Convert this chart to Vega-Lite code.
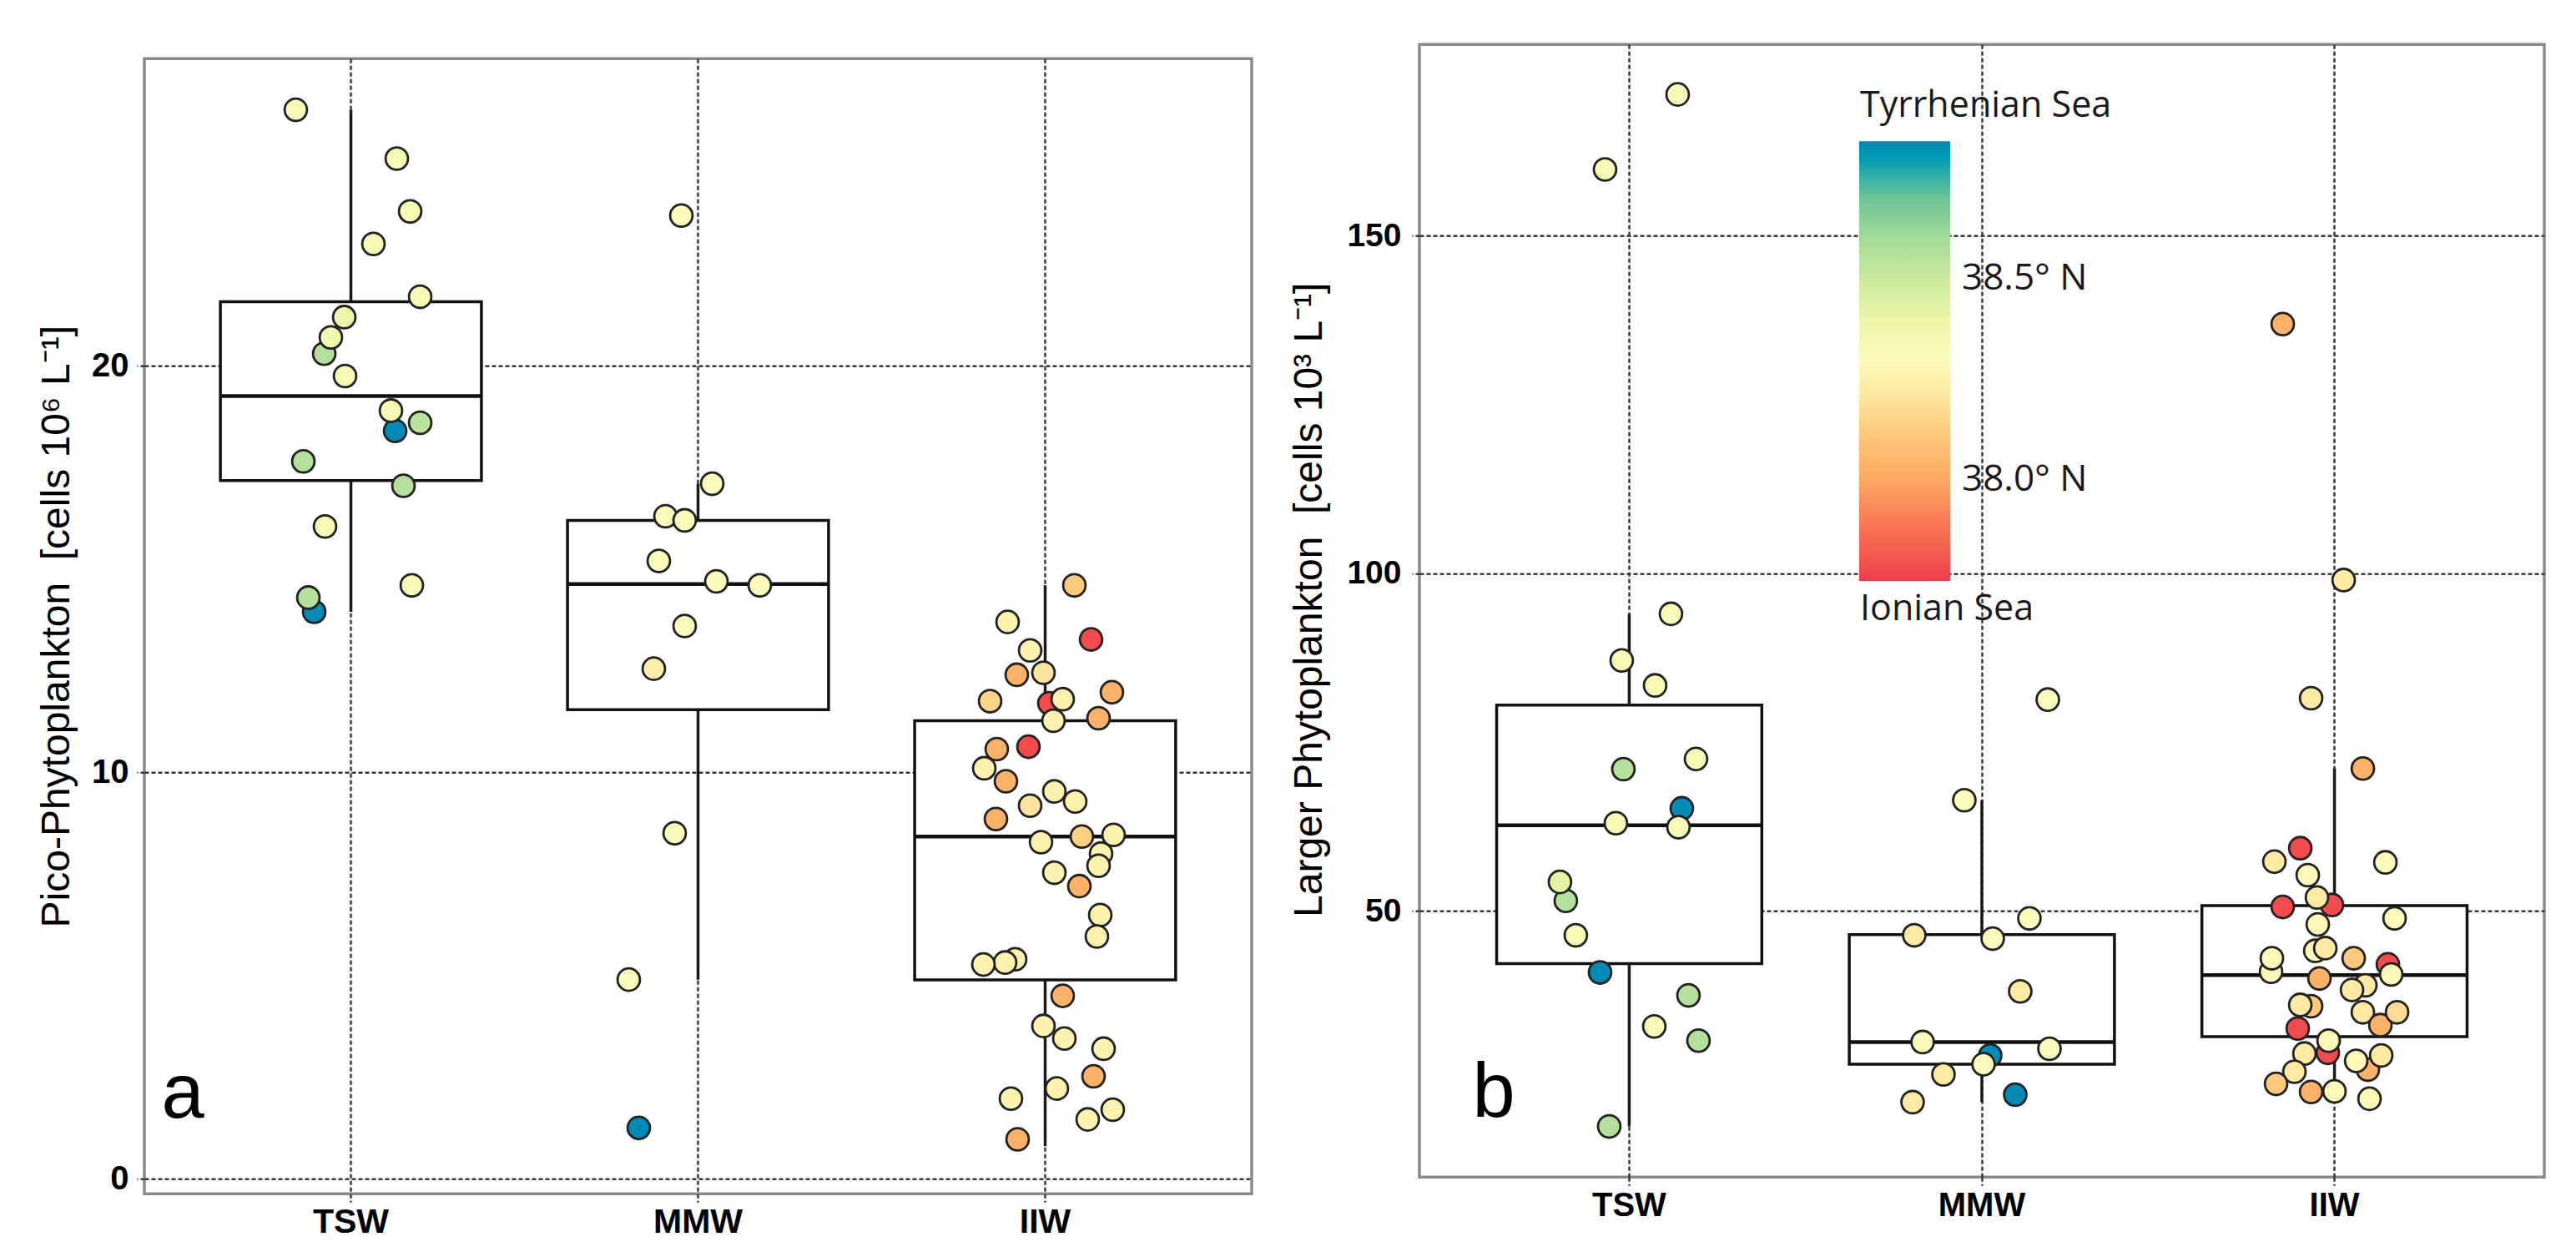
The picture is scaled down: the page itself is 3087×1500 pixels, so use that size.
{
  "$schema": "https://vega.github.io/schema/vega-lite/v6.json",
  "autosize": {"type": "pad"},
  "padding": {"left": 42, "top": 51.25, "right": 5, "bottom": 5},
  "background": "white",
  "spacing": 41,
  "datasets": {
    "picoBox": [
      {"grp": "TSW", "lo": 13.95, "q1": 17.18, "med": 19.26, "q3": 21.58, "hi": 26.3},
      {"grp": "MMW", "lo": 4.9, "q1": 11.54, "med": 14.63, "q3": 16.2, "hi": 17.1},
      {"grp": "IIW", "lo": 0.8, "q1": 4.89, "med": 8.42, "q3": 11.27, "hi": 14.6}
    ],
    "largeBox": [
      {"grp": "TSW", "lo": 18.1, "q1": 42.2, "med": 62.7, "q3": 80.5, "hi": 94.0},
      {"grp": "MMW", "lo": 21.7, "q1": 27.3, "med": 30.6, "q3": 46.5, "hi": 66.4},
      {"grp": "IIW", "lo": 22.2, "q1": 31.4, "med": 40.5, "q3": 50.8, "hi": 71.1}
    ],
    "picoPts": [
      {"grp": "TSW", "val": 26.3, "lat": 38.33, "jit": -66},
      {"grp": "TSW", "val": 25.1, "lat": 38.33, "jit": 55},
      {"grp": "TSW", "val": 23.8, "lat": 38.33, "jit": 71},
      {"grp": "TSW", "val": 23.0, "lat": 38.33, "jit": 27},
      {"grp": "TSW", "val": 21.7, "lat": 38.33, "jit": 83},
      {"grp": "TSW", "val": 21.2, "lat": 38.38, "jit": -8},
      {"grp": "TSW", "val": 20.3, "lat": 38.57, "jit": -32},
      {"grp": "TSW", "val": 20.7, "lat": 38.36, "jit": -24},
      {"grp": "TSW", "val": 19.75, "lat": 38.33, "jit": -7},
      {"grp": "TSW", "val": 18.4, "lat": 38.83, "jit": 53},
      {"grp": "TSW", "val": 18.9, "lat": 38.33, "jit": 48},
      {"grp": "TSW", "val": 18.6, "lat": 38.55, "jit": 83},
      {"grp": "TSW", "val": 17.65, "lat": 38.57, "jit": -57},
      {"grp": "TSW", "val": 17.05, "lat": 38.57, "jit": 63},
      {"grp": "TSW", "val": 16.05, "lat": 38.33, "jit": -31},
      {"grp": "TSW", "val": 14.6, "lat": 38.33, "jit": 73},
      {"grp": "TSW", "val": 13.95, "lat": 38.83, "jit": -44},
      {"grp": "TSW", "val": 14.3, "lat": 38.57, "jit": -51},
      {"grp": "MMW", "val": 23.7, "lat": 38.3, "jit": -20},
      {"grp": "MMW", "val": 17.1, "lat": 38.3, "jit": 17},
      {"grp": "MMW", "val": 16.3, "lat": 38.3, "jit": -39},
      {"grp": "MMW", "val": 16.2, "lat": 38.3, "jit": -16},
      {"grp": "MMW", "val": 15.2, "lat": 38.28, "jit": -47},
      {"grp": "MMW", "val": 14.7, "lat": 38.3, "jit": 22},
      {"grp": "MMW", "val": 14.6, "lat": 38.3, "jit": 74},
      {"grp": "MMW", "val": 13.6, "lat": 38.3, "jit": -16},
      {"grp": "MMW", "val": 12.55, "lat": 38.24, "jit": -53},
      {"grp": "MMW", "val": 8.5, "lat": 38.3, "jit": -28},
      {"grp": "MMW", "val": 4.9, "lat": 38.3, "jit": -83},
      {"grp": "MMW", "val": 1.25, "lat": 38.83, "jit": -71},
      {"grp": "IIW", "val": 14.6, "lat": 38.12, "jit": 35},
      {"grp": "IIW", "val": 13.7, "lat": 38.25, "jit": -45},
      {"grp": "IIW", "val": 13.27, "lat": 37.78, "jit": 55},
      {"grp": "IIW", "val": 13.0, "lat": 38.25, "jit": -18},
      {"grp": "IIW", "val": 12.4, "lat": 38.03, "jit": -34},
      {"grp": "IIW", "val": 12.45, "lat": 38.2, "jit": -2},
      {"grp": "IIW", "val": 11.75, "lat": 38.15, "jit": -66},
      {"grp": "IIW", "val": 11.7, "lat": 37.78, "jit": 5},
      {"grp": "IIW", "val": 11.8, "lat": 38.25, "jit": 21},
      {"grp": "IIW", "val": 11.97, "lat": 38.03, "jit": 80},
      {"grp": "IIW", "val": 11.27, "lat": 38.25, "jit": 10},
      {"grp": "IIW", "val": 11.33, "lat": 38.03, "jit": 64},
      {"grp": "IIW", "val": 10.63, "lat": 37.78, "jit": -20},
      {"grp": "IIW", "val": 10.57, "lat": 38.03, "jit": -58},
      {"grp": "IIW", "val": 10.1, "lat": 38.25, "jit": -73},
      {"grp": "IIW", "val": 9.78, "lat": 38.03, "jit": -47},
      {"grp": "IIW", "val": 9.53, "lat": 38.25, "jit": 11},
      {"grp": "IIW", "val": 9.28, "lat": 38.25, "jit": 36},
      {"grp": "IIW", "val": 9.18, "lat": 38.2, "jit": -18},
      {"grp": "IIW", "val": 8.85, "lat": 38.03, "jit": -59},
      {"grp": "IIW", "val": 8.0, "lat": 38.25, "jit": 67},
      {"grp": "IIW", "val": 8.28, "lat": 38.25, "jit": -5},
      {"grp": "IIW", "val": 8.42, "lat": 38.14, "jit": 44},
      {"grp": "IIW", "val": 8.46, "lat": 38.25, "jit": 82},
      {"grp": "IIW", "val": 7.7, "lat": 38.25, "jit": 64},
      {"grp": "IIW", "val": 7.53, "lat": 38.25, "jit": 11},
      {"grp": "IIW", "val": 7.2, "lat": 38.03, "jit": 41},
      {"grp": "IIW", "val": 6.49, "lat": 38.25, "jit": 66},
      {"grp": "IIW", "val": 5.96, "lat": 38.25, "jit": 62},
      {"grp": "IIW", "val": 5.4, "lat": 38.25, "jit": -36},
      {"grp": "IIW", "val": 5.32, "lat": 38.25, "jit": -48},
      {"grp": "IIW", "val": 5.27, "lat": 38.25, "jit": -74},
      {"grp": "IIW", "val": 4.5, "lat": 38.03, "jit": 21},
      {"grp": "IIW", "val": 3.76, "lat": 38.25, "jit": -2},
      {"grp": "IIW", "val": 3.45, "lat": 38.25, "jit": 23},
      {"grp": "IIW", "val": 3.2, "lat": 38.25, "jit": 70},
      {"grp": "IIW", "val": 2.52, "lat": 38.03, "jit": 58},
      {"grp": "IIW", "val": 2.22, "lat": 38.25, "jit": 14},
      {"grp": "IIW", "val": 1.97, "lat": 38.25, "jit": -41},
      {"grp": "IIW", "val": 1.7, "lat": 38.25, "jit": 81},
      {"grp": "IIW", "val": 1.46, "lat": 38.25, "jit": 51},
      {"grp": "IIW", "val": 0.97, "lat": 38.03, "jit": -33}
    ],
    "largePts": [
      {"grp": "TSW", "val": 170.9, "lat": 38.33, "jit": 58},
      {"grp": "TSW", "val": 159.8, "lat": 38.33, "jit": -29},
      {"grp": "TSW", "val": 94.0, "lat": 38.33, "jit": 50},
      {"grp": "TSW", "val": 87.1, "lat": 38.33, "jit": -9},
      {"grp": "TSW", "val": 83.4, "lat": 38.33, "jit": 31},
      {"grp": "TSW", "val": 72.5, "lat": 38.33, "jit": 80},
      {"grp": "TSW", "val": 71.0, "lat": 38.57, "jit": -7},
      {"grp": "TSW", "val": 65.2, "lat": 38.83, "jit": 63},
      {"grp": "TSW", "val": 63.0, "lat": 38.33, "jit": -16},
      {"grp": "TSW", "val": 62.4, "lat": 38.33, "jit": 59},
      {"grp": "TSW", "val": 51.5, "lat": 38.57, "jit": -76},
      {"grp": "TSW", "val": 54.3, "lat": 38.43, "jit": -83},
      {"grp": "TSW", "val": 46.4, "lat": 38.33, "jit": -64},
      {"grp": "TSW", "val": 40.9, "lat": 38.83, "jit": -35},
      {"grp": "TSW", "val": 37.5, "lat": 38.57, "jit": 71},
      {"grp": "TSW", "val": 32.9, "lat": 38.33, "jit": 30},
      {"grp": "TSW", "val": 30.8, "lat": 38.57, "jit": 83},
      {"grp": "TSW", "val": 18.1, "lat": 38.57, "jit": -24},
      {"grp": "MMW", "val": 81.3, "lat": 38.3, "jit": 79},
      {"grp": "MMW", "val": 66.4, "lat": 38.3, "jit": -21},
      {"grp": "MMW", "val": 48.9, "lat": 38.3, "jit": 57},
      {"grp": "MMW", "val": 46.4, "lat": 38.22, "jit": -81},
      {"grp": "MMW", "val": 45.9, "lat": 38.3, "jit": 13},
      {"grp": "MMW", "val": 38.1, "lat": 38.22, "jit": 46},
      {"grp": "MMW", "val": 30.6, "lat": 38.3, "jit": -71},
      {"grp": "MMW", "val": 29.6, "lat": 38.3, "jit": 81},
      {"grp": "MMW", "val": 28.6, "lat": 38.83, "jit": 10},
      {"grp": "MMW", "val": 27.3, "lat": 38.3, "jit": 2},
      {"grp": "MMW", "val": 25.8, "lat": 38.22, "jit": -46},
      {"grp": "MMW", "val": 22.8, "lat": 38.83, "jit": 40},
      {"grp": "MMW", "val": 21.7, "lat": 38.22, "jit": -83},
      {"grp": "IIW", "val": 136.9, "lat": 38.03, "jit": -62},
      {"grp": "IIW", "val": 99.0, "lat": 38.22, "jit": 11},
      {"grp": "IIW", "val": 81.5, "lat": 38.22, "jit": -28},
      {"grp": "IIW", "val": 71.1, "lat": 38.03, "jit": 34},
      {"grp": "IIW", "val": 57.3, "lat": 38.22, "jit": -72},
      {"grp": "IIW", "val": 59.3, "lat": 37.78, "jit": -41},
      {"grp": "IIW", "val": 57.2, "lat": 38.28, "jit": 61},
      {"grp": "IIW", "val": 55.3, "lat": 38.28, "jit": -32},
      {"grp": "IIW", "val": 50.9, "lat": 37.78, "jit": -3},
      {"grp": "IIW", "val": 52.0, "lat": 38.22, "jit": -21},
      {"grp": "IIW", "val": 50.6, "lat": 37.78, "jit": -62},
      {"grp": "IIW", "val": 48.0, "lat": 38.28, "jit": -20},
      {"grp": "IIW", "val": 48.9, "lat": 38.28, "jit": 72},
      {"grp": "IIW", "val": 44.1, "lat": 38.28, "jit": -23},
      {"grp": "IIW", "val": 44.5, "lat": 38.22, "jit": -11},
      {"grp": "IIW", "val": 41.0, "lat": 38.28, "jit": -76},
      {"grp": "IIW", "val": 43.0, "lat": 38.28, "jit": -75},
      {"grp": "IIW", "val": 42.1, "lat": 37.78, "jit": 64},
      {"grp": "IIW", "val": 43.0, "lat": 38.12, "jit": 23},
      {"grp": "IIW", "val": 40.0, "lat": 38.03, "jit": -18},
      {"grp": "IIW", "val": 40.6, "lat": 38.28, "jit": 68},
      {"grp": "IIW", "val": 39.0, "lat": 38.22, "jit": 37},
      {"grp": "IIW", "val": 38.3, "lat": 38.22, "jit": 21},
      {"grp": "IIW", "val": 35.9, "lat": 38.12, "jit": -28},
      {"grp": "IIW", "val": 36.1, "lat": 38.22, "jit": -41},
      {"grp": "IIW", "val": 35.0, "lat": 38.22, "jit": 34},
      {"grp": "IIW", "val": 33.1, "lat": 38.03, "jit": 55},
      {"grp": "IIW", "val": 35.0, "lat": 38.18, "jit": 75},
      {"grp": "IIW", "val": 32.6, "lat": 37.78, "jit": -44},
      {"grp": "IIW", "val": 29.0, "lat": 37.78, "jit": -8},
      {"grp": "IIW", "val": 30.8, "lat": 38.28, "jit": -7},
      {"grp": "IIW", "val": 26.5, "lat": 38.03, "jit": 40},
      {"grp": "IIW", "val": 28.6, "lat": 38.22, "jit": 56},
      {"grp": "IIW", "val": 28.9, "lat": 38.22, "jit": -36},
      {"grp": "IIW", "val": 27.8, "lat": 38.28, "jit": 26},
      {"grp": "IIW", "val": 26.2, "lat": 38.22, "jit": -48},
      {"grp": "IIW", "val": 24.4, "lat": 38.12, "jit": -70},
      {"grp": "IIW", "val": 23.2, "lat": 38.03, "jit": -28},
      {"grp": "IIW", "val": 23.3, "lat": 38.28, "jit": 0},
      {"grp": "IIW", "val": 22.2, "lat": 38.28, "jit": 42}
    ]
  },
  "hconcat": [
    {
      "spacing": 0,
      "vconcat": [
        {
          "width": 1327,
          "height": 14.25,
          "view": {"stroke": null},
          "data": {"values": [{"k": 1}]},
          "mark": {"type": "point", "opacity": 0},
          "encoding": {}
        },
        {
          "width": 1327,
          "height": 1360,
          "resolve": {"scale": {"xOffset": "independent"}},
          "layer": [
            {
              "data": {"name": "picoBox"},
              "mark": {"type": "rule", "color": "#1a1a1a", "strokeWidth": 3.5},
              "encoding": {
                "x": {"field": "grp", "type": "nominal",
                  "scale": {"domain": ["TSW", "MMW", "IIW"], "paddingInner": 0.2, "paddingOuter": 0.195},
                  "axis": {"title": null, "labelAngle": 0, "bandPosition": 0.5, "tickSize": 10, "labelPadding": 4, "labelFontSize": 41}},
                "y": {"field": "lo", "type": "quantitative",
                  "scale": {"domain": [-0.37, 27.56], "nice": false, "zero": false},
                  "axis": {"values": [0, 10, 20], "title": "Pico-Phytoplankton\u00a0 [cells 10\u2076 L\u207b\u00b9]", "titleX": -91, "titleY": 680, "titleAngle": -90, "titleAlign": "center", "titleBaseline": "alphabetic", "labelPadding": 10, "tickSize": 9, "labelFontSize": 40}},
                "y2": {"field": "hi"}
              }
            },
            {
              "data": {"name": "picoBox"},
              "mark": {"type": "bar", "fill": "white", "stroke": "#111", "strokeWidth": 3.5, "width": {"band": 0.94}},
              "encoding": {
                "x": {"field": "grp", "type": "nominal"},
                "y": {"field": "q1", "type": "quantitative"},
                "y2": {"field": "q3"}
              }
            },
            {
              "data": {"name": "picoBox"},
              "mark": {"type": "tick", "color": "#111", "opacity": 1, "thickness": 4.5, "size": 313},
              "encoding": {
                "x": {"field": "grp", "type": "nominal"},
                "y": {"field": "med", "type": "quantitative"}
              }
            },
            {
              "data": {"name": "picoPts"},
              "mark": {"type": "circle", "stroke": "#222", "strokeWidth": 2.8, "size": 720, "opacity": 1},
              "encoding": {
                "x": {"field": "grp", "type": "nominal"},
                "xOffset": {"field": "jit", "type": "quantitative", "scale": {"domain": [-166.4, 166.4]}},
                "y": {"field": "val", "type": "quantitative"},
                "fill": {"field": "lat", "type": "quantitative",
                  "scale": {"domain": [37.75, 37.9, 38.0, 38.12, 38.2, 38.29, 38.42, 38.57, 38.7, 38.84],
                    "range": ["#f03b4c", "#f87a55", "#fca862", "#fdc97c", "#fee49c", "#fefcbd", "#e8f4a4", "#b3e09a", "#6cc595", "#0087b6"]},
                  "legend": null}
              }
            },
            {
              "data": {"values": [{"lab": "a"}]},
              "mark": {"type": "text", "fontSize": 92, "font": "Liberation Sans", "align": "left", "baseline": "alphabetic", "dx": -227, "color": "#000"},
              "encoding": {
                "text": {"field": "lab"},
                "x": {"datum": "TSW", "type": "nominal"},
                "y": {"datum": 1.5, "type": "quantitative"}
              }
            }
          ]
        }
      ]
    },
    {
      "width": 1348,
      "height": 1357,
      "resolve": {"scale": {"xOffset": "independent"}},
      "layer": [
        {
          "data": {"name": "largeBox"},
          "mark": {"type": "rule", "color": "#1a1a1a", "strokeWidth": 3.5},
          "encoding": {
            "x": {"field": "grp", "type": "nominal",
              "scale": {"domain": ["TSW", "MMW", "IIW"], "paddingInner": 0.2, "paddingOuter": 0.195},
              "axis": {"title": null, "labelAngle": 0, "bandPosition": 0.5, "tickSize": 10, "labelPadding": 4, "labelFontSize": 40}},
            "y": {"field": "lo", "type": "quantitative",
              "scale": {"domain": [10.6, 178.3], "nice": false, "zero": false},
              "axis": {"values": [50, 100, 150], "title": "Larger Phytoplankton\u00a0 [cells 10\u00b3 L\u207b\u00b9]", "titleX": -118, "titleY": 665, "titleAngle": -90, "titleAlign": "center", "titleBaseline": "alphabetic", "labelPadding": 13, "tickSize": 9, "labelFontSize": 39}},
            "y2": {"field": "hi"}
          }
        },
        {
          "data": {"name": "largeBox"},
          "mark": {"type": "bar", "fill": "white", "stroke": "#111", "strokeWidth": 3.5, "width": {"band": 0.94}},
          "encoding": {
            "x": {"field": "grp", "type": "nominal"},
            "y": {"field": "q1", "type": "quantitative"},
            "y2": {"field": "q3"}
          }
        },
        {
          "data": {"name": "largeBox"},
          "mark": {"type": "tick", "color": "#111", "opacity": 1, "thickness": 4.5, "size": 318},
          "encoding": {
            "x": {"field": "grp", "type": "nominal"},
            "y": {"field": "med", "type": "quantitative"}
          }
        },
        {
          "data": {"name": "largePts"},
          "mark": {"type": "circle", "stroke": "#222", "strokeWidth": 2.8, "size": 720, "opacity": 1},
          "encoding": {
            "x": {"field": "grp", "type": "nominal"},
            "xOffset": {"field": "jit", "type": "quantitative", "scale": {"domain": [-169, 169]}},
            "y": {"field": "val", "type": "quantitative"},
            "fill": {"field": "lat", "type": "quantitative",
              "scale": {"domain": [37.75, 37.9, 38.0, 38.12, 38.2, 38.29, 38.42, 38.57, 38.7, 38.84],
                "range": ["#f03b4c", "#f87a55", "#fca862", "#fdc97c", "#fee49c", "#fefcbd", "#e8f4a4", "#b3e09a", "#6cc595", "#0087b6"]},
              "legend": {"orient": "none", "legendX": 527, "legendY": 116, "direction": "vertical", "title": null,
                "gradientLength": 527, "gradientThickness": 109, "gradientStrokeWidth": 0,
                "values": [38.0, 38.5], "labelExpr": "format(datum.value, '.1f') + '\u00b0 N'",
                "labelFont": "Open Sans", "labelFontSize": 44, "labelOffset": 14, "labelColor": "#1a1a1a",
                "labelLimit": 400, "labelOverlap": false, "padding": 0}}
          }
        },
        {
          "data": {"values": [{"lab": "b"}]},
          "mark": {"type": "text", "fontSize": 92, "font": "Liberation Sans", "align": "left", "baseline": "alphabetic", "dx": -188, "color": "#000"},
          "encoding": {
            "text": {"field": "lab"},
            "x": {"datum": "TSW", "type": "nominal"},
            "y": {"datum": 19.5, "type": "quantitative"}
          }
        },
        {
          "data": {"values": [{"lab": "Tyrrhenian Sea", "val": 167.6}, {"lab": "Ionian Sea", "val": 93.1}]},
          "mark": {"type": "text", "fontSize": 43, "font": "Open Sans", "align": "left", "baseline": "alphabetic", "dx": -146, "color": "#1a1a1a"},
          "encoding": {
            "text": {"field": "lab"},
            "x": {"datum": "MMW", "type": "nominal"},
            "y": {"field": "val", "type": "quantitative"}
          }
        }
      ]
    }
  ],
  "resolve": {"scale": {"fill": "independent"}, "legend": {"fill": "independent"}},
  "config": {
    "font": "Liberation Sans",
    "view": {"stroke": "#8a8a8a", "strokeWidth": 3.5},
    "axis": {
      "grid": true, "gridColor": "#3a3a3a", "gridDash": [5, 3], "gridWidth": 2.5,
      "domain": false,
      "ticks": true, "tickColor": "#3a3a3a", "tickDash": [5, 3], "tickWidth": 2.5,
      "labelFont": "Liberation Sans", "labelFontWeight": "bold", "labelColor": "#000",
      "titleFont": "Liberation Sans", "titleFontWeight": "normal", "titleFontSize": 48, "titleColor": "#000"
    }
  }
}
